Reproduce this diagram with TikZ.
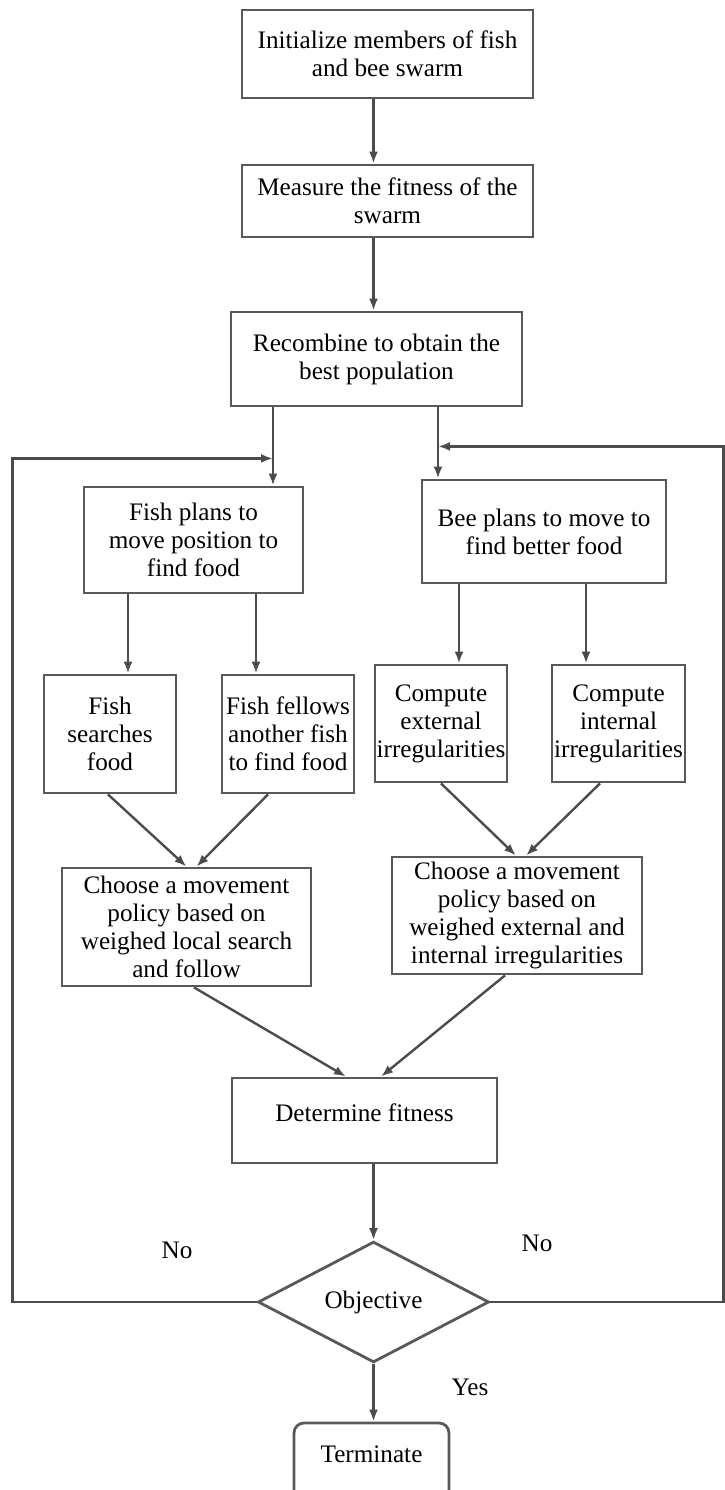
\documentclass[tikz,border=0pt]{standalone}
\usepackage{fontspec}
\setmainfont{Liberation Serif}
\newfontfamily\chartfont{Liberation Serif}
\usetikzlibrary{shapes.geometric,arrows.meta}

\begin{document}
\begin{tikzpicture}[node distance=75pt, font=\chartfont\fontsize{12.6}{14}\selectfont]
    \tikzstyle{block} = [rectangle, draw=black!65, line width=1.4pt, align=center, inner sep=2pt]
    \tikzstyle{decision} = [diamond, draw=black!65, line width=1.4pt, minimum width=115.5pt,
                                      minimum height=55pt, inner sep=0pt]
    \tikzstyle{terminal} = [rectangle, rounded corners=5pt, draw=black!65, line width=1.4pt,
                                      minimum width=77.5pt, text height=15.5pt, text depth=30pt, inner sep=4pt]
    \tikzstyle{flow} = [draw=black!70, line width=1.2pt, -{Latex[length=6pt,width=4.5pt,fill=black]}]
  \useasboundingbox (0,0) rectangle (362pt,-745pt);
  \node[block, minimum width=145.5pt, minimum height=44pt](init) at (193.75pt,-27pt){Initialize members of fish\\and bee swarm};
  \node[block, minimum width=145.5pt, minimum height=36pt, below of=init, yshift=1.5pt](measure){Measure the fitness of the\\swarm};
  \node[block, minimum width=145.5pt, minimum height=47pt, below of=measure, xshift=-5.5pt, yshift=-4pt](recomb){Recombine to obtain the\\best population};
  \node[block, minimum width=109.5pt, minimum height=53pt, below of=recomb, xshift=-91.5pt, yshift=-15.5pt](fishplan){Fish plans to\\move position to\\find food};
  \node[block, minimum width=122pt, minimum height=51.5pt, right of=fishplan, xshift=100.25pt, yshift=4.25pt](beeplan){Bee plans to move to\\find better food};
  \node[block, minimum width=66pt, minimum height=59pt, below of=fishplan, xshift=-41.75pt, yshift=-22pt](fsearch){Fish\\searches\\food};
  \node[block, minimum width=66pt, minimum height=59pt, inner xsep=1pt, right of=fsearch, xshift=14pt](ffollow){Fish fellows\\another fish\\to find food};
  \node[block, minimum width=66pt, minimum height=58.5pt, inner xsep=0.5pt, below of=beeplan, xshift=-51.5pt, yshift=-21pt](cext){Compute\\external\\irregularities};
  \node[block, minimum width=66.5pt, minimum height=58.5pt, inner xsep=0.5pt, right of=cext, xshift=13.75pt](cint){Compute\\internal\\irregularities};
  \node[block, minimum width=124.5pt, minimum height=59pt, below of=fsearch, xshift=38.25pt, yshift=-21.5pt](chooseF){Choose a movement\\policy based on\\weighed local search\\and follow};
  \node[block, minimum width=125pt, minimum height=58.5pt, below of=cext, xshift=38pt, yshift=-21pt](chooseB){Choose a movement\\policy based on\\weighed external and\\internal irregularities};
  \node[block, minimum width=132.5pt, minimum height=42.5pt, text depth=7.5pt, below of=chooseF, xshift=89pt, yshift=-21.75pt](det){Determine fitness};
  \node[decision, below of=det, xshift=4.5pt, yshift=-15.75pt](obj){Objective};
  \node[terminal, below of=obj, xshift=-1pt, yshift=-12.25pt](term){Terminate};
  \node(noL) at ([xshift=-98.25pt, yshift=26pt]obj.center){No};
  \node(noR) at ([xshift=81.75pt, yshift=29.5pt]obj.center){No};
  \node(yes) at ([xshift=48.25pt, yshift=-42.5pt]obj.center){Yes};
  \coordinate (joinL) at ([xshift=-51.75pt, yshift=-25.5pt]recomb.south);
  \coordinate (joinR) at ([xshift=30.75pt, yshift=-19.5pt]recomb.south);
  \draw[flow] (init.south -| obj) -- (measure.north -| obj);
  \draw[flow] (measure.south -| obj) -- (recomb.north -| obj);
  \draw[flow] ([xshift=-51.75pt]recomb.south) -- ([xshift=-51.75pt]recomb.south |- fishplan.north);
  \draw[flow] ([xshift=30.75pt]recomb.south) -- ([xshift=30.75pt]recomb.south |- beeplan.north);
  \draw[flow] ([xshift=9pt]fsearch.north |- fishplan.south) -- ([xshift=9pt]fsearch.north);
  \draw[flow] ([xshift=-16pt]ffollow.north |- fishplan.south) -- ([xshift=-16pt]ffollow.north);
  \draw[flow] ([xshift=9pt]cext.north |- beeplan.south) -- ([xshift=9pt]cext.north);
  \draw[flow] ([xshift=-16.25pt]cint.north |- beeplan.south) -- ([xshift=-16.25pt]cint.north);
  \draw[flow] ([xshift=-1pt]fsearch.south) -- (chooseF.north);
  \draw[flow] ([xshift=-10pt]ffollow.south) -- ([xshift=5pt]chooseF.north);
  \draw[flow] (cext.south) -- ([xshift=-0.5pt]chooseB.north);
  \draw[flow] ([xshift=-9.25pt]cint.south) -- ([xshift=4.5pt]chooseB.north);
  \draw[flow] ([xshift=3.75pt]chooseF.south) -- ([xshift=-9.25pt]det.north);
  \draw[flow] ([xshift=-6pt]chooseB.south) -- ([xshift=8.25pt]det.north);
  \draw[flow] (det.south -| obj) -- (obj.north);
  \draw[flow] (obj.south) -- (term.north -| obj);
  \draw[flow] (obj.west) -- ++(-122pt,0) |- (joinL);
  \draw[flow] (obj.east) -- ++(116.5pt,0) |- (joinR);
  \end{tikzpicture}
\end{document}
